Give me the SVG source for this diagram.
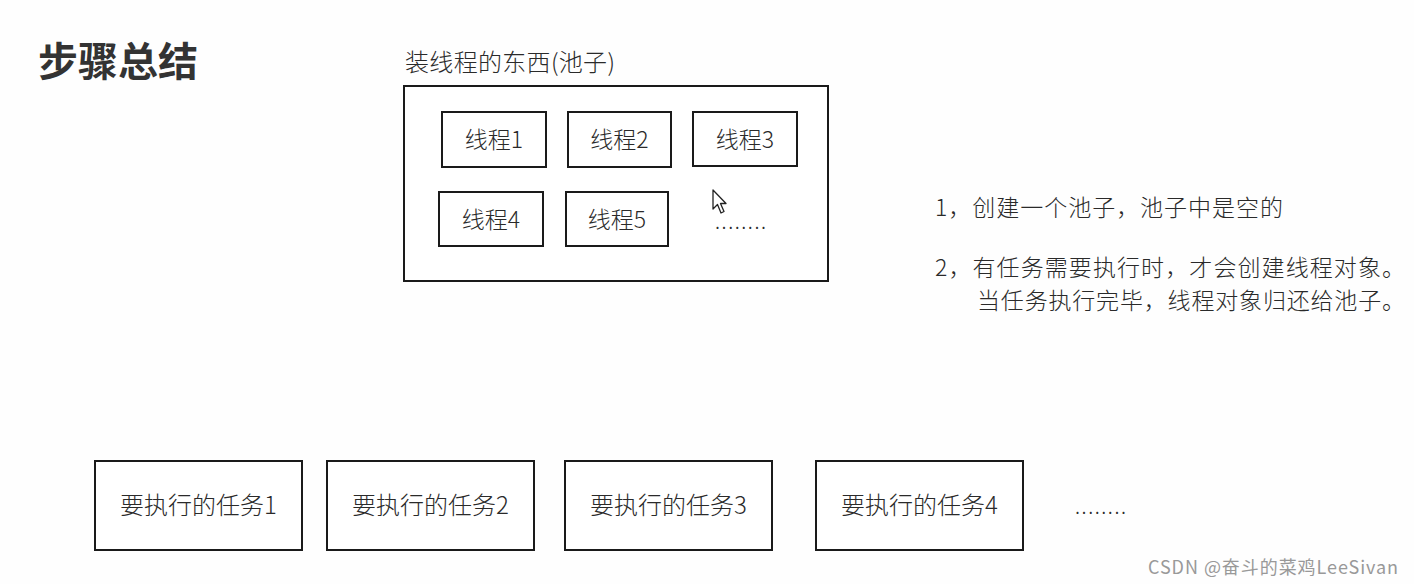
<svg xmlns="http://www.w3.org/2000/svg" width="1414" height="584" viewBox="0 0 1414 584">
<style>
.box{fill:#fff;stroke:#1a1a1a;stroke-width:2}
.t{font-family:"Microsoft YaHei","Noto Sans CJK SC",sans-serif;fill:#2a2a2a;font-weight:300}
.lab{font-size:23px;text-anchor:middle}
.task{font-size:24px;text-anchor:middle}
.note{font-size:23px}
</style>
<rect width="1414" height="584" fill="#fefefe"/>
<text x="38" y="76" font-family="Microsoft YaHei,Noto Sans CJK SC,sans-serif" font-size="40" font-weight="bold" fill="#333">步骤总结</text>
<g id="pool">
<text class="t" x="405" y="71" font-size="24" textLength="210">装线程的东西(池子)</text>
<rect class="box" x="404" y="86" width="424" height="195"/>
</g>
<g id="thread1"><rect class="box" x="442" y="112" width="104" height="55"/><text class="t lab" x="494" y="148">线程1</text></g>
<g id="thread2"><rect class="box" x="568" y="112" width="103" height="55"/><text class="t lab" x="619.5" y="148">线程2</text></g>
<g id="thread3"><rect class="box" x="693" y="112" width="104" height="54"/><text class="t lab" x="745" y="148">线程3</text></g>
<g id="thread4"><rect class="box" x="439" y="192" width="104" height="54"/><text class="t lab" x="491" y="228">线程4</text></g>
<g id="thread5"><rect class="box" x="566" y="192" width="102" height="54"/><text class="t lab" x="617" y="228">线程5</text></g>
<text class="t" x="715" y="229" font-size="20" textLength="51">........</text>
<polygon points="713,190 713,209 717.5,204.5 721,213 724,211.5 720.5,203.5 726,203.5" fill="#fff" stroke="#222" stroke-width="1.3" stroke-linejoin="round"/>
<g id="notes">
<text class="t note" x="935" y="216" textLength="348">1，创建一个池子，池子中是空的</text>
<text class="t note" x="935" y="276" textLength="470">2，有任务需要执行时，才会创建线程对象。</text>
<text class="t note" x="977" y="309" textLength="428">当任务执行完毕，线程对象归还给池子。</text>
</g>
<g id="task1"><rect class="box" x="95" y="461" width="207" height="89"/><text class="t task" x="198.5" y="514">要执行的任务1</text></g>
<g id="task2"><rect class="box" x="327" y="461" width="207" height="89"/><text class="t task" x="430.5" y="514">要执行的任务2</text></g>
<g id="task3"><rect class="box" x="565" y="461" width="207" height="89"/><text class="t task" x="668.5" y="514">要执行的任务3</text></g>
<g id="task4"><rect class="box" x="816" y="461" width="207" height="89"/><text class="t task" x="919.5" y="514">要执行的任务4</text></g>
<text class="t" x="1075" y="514" font-size="20" textLength="51">........</text>
<g id="connectors"></g>
<text x="1148" y="574" font-family="Microsoft YaHei,Noto Sans CJK SC,sans-serif" font-size="18" fill="#999" textLength="250">CSDN @奋斗的菜鸡LeeSivan</text>
</svg>
